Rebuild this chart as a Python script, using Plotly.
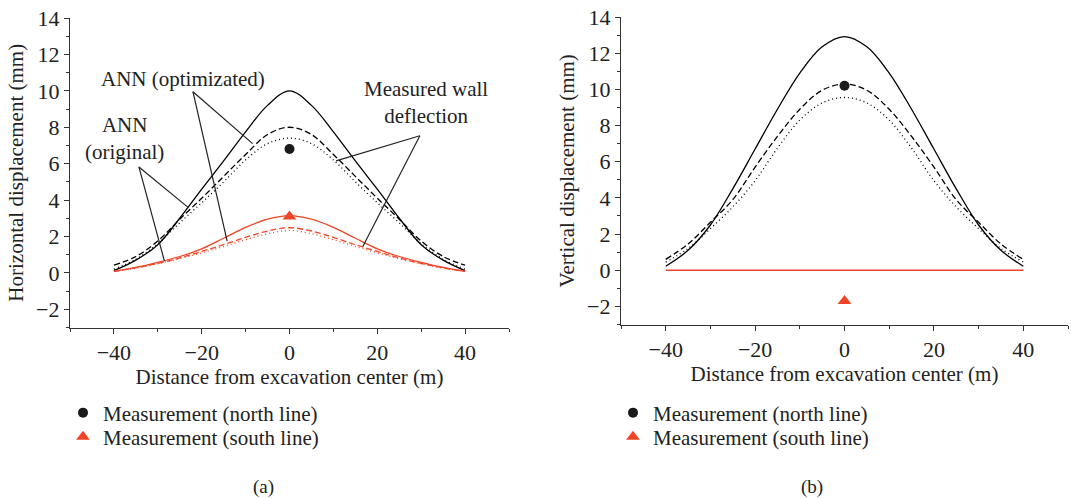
import plotly.graph_objects as go

W, H = 1071, 498
RED = "#EF4526"
FONT = "Liberation Serif"

x_dist = [-40, -35, -30, -25, -20, -15, -10, -5, 0, 5, 10, 15, 20, 25, 30, 35, 40]

# Panel (a): horizontal displacement (mm)
a_north_ann_orig = [0.12, 0.7, 1.55, 3.0, 4.6, 6.15, 7.75, 9.2, 10.0, 9.2, 7.75, 6.15, 4.6, 3.0, 1.55, 0.7, 0.12]
a_north_ann_opt = [0.42, 0.9, 1.75, 2.95, 4.1, 5.3, 6.5, 7.6, 8.0, 7.6, 6.5, 5.3, 4.1, 2.95, 1.75, 0.9, 0.42]
a_north_meas = [0.2, 0.75, 1.6, 2.75, 3.85, 5.0, 6.2, 7.1, 7.4, 7.1, 6.2, 5.0, 3.85, 2.75, 1.6, 0.75, 0.2]
a_south_ann_orig = [0.08, 0.3, 0.58, 0.9, 1.32, 1.9, 2.5, 2.95, 3.15, 2.95, 2.5, 1.9, 1.32, 0.9, 0.58, 0.3, 0.08]
a_south_ann_opt = [0.08, 0.28, 0.52, 0.82, 1.18, 1.55, 1.95, 2.3, 2.48, 2.3, 1.95, 1.55, 1.18, 0.82, 0.52, 0.28, 0.08]
a_south_meas = [0.08, 0.26, 0.5, 0.78, 1.1, 1.45, 1.82, 2.15, 2.33, 2.15, 1.82, 1.45, 1.1, 0.78, 0.5, 0.26, 0.08]
a_meas_north = 6.8
a_meas_south = 3.1

# Panel (b): vertical displacement (mm)
b_north_ann_orig = [0.22, 1.1, 2.5, 4.5, 6.7, 8.9, 10.9, 12.35, 12.92, 12.35, 10.9, 8.9, 6.7, 4.5, 2.5, 1.1, 0.22]
b_north_ann_opt = [0.6, 1.45, 2.65, 3.9, 5.7, 7.4, 8.9, 9.95, 10.3, 9.95, 8.9, 7.4, 5.7, 3.9, 2.65, 1.45, 0.6]
b_north_meas = [0.45, 1.2, 2.3, 3.5, 4.95, 6.75, 8.3, 9.25, 9.55, 9.25, 8.3, 6.75, 4.95, 3.5, 2.3, 1.2, 0.45]
b_south = [0.0] * 17
b_meas_north = 10.2
b_meas_south = -1.7

y_ticks = [-2, 0, 2, 4, 6, 8, 10, 12, 14]
x_ticks = [-40, -20, 0, 20, 40]

# Label leader lines for panel (a): (x0, y0, x1, y1) in data units
leaders = [
    (-34.3, 5.82, -23.1, 3.6),
    (-34.3, 5.82, -28.5, 0.66),
    (-22.0, 9.95, -8.4, 7.1),
    (-22.0, 9.95, -14.2, 1.75),
    (29.7, 7.53, 10.6, 6.15),
    (29.7, 7.53, 16.7, 1.45),
]

fig = go.Figure()

def curves(xa, ya, data, color, width=1.3):
    for vals, dash in data:
        fig.add_trace(go.Scatter(
            x=x_dist, y=vals, mode="lines", xaxis=xa, yaxis=ya,
            line=dict(color=color, width=width, dash=dash, shape="spline", smoothing=1.0),
            showlegend=False, hoverinfo="skip"))

curves("x", "y", [(a_north_ann_orig, "solid"), (a_north_ann_opt, "6px,3px"), (a_north_meas, "1px,3px")], "black")
curves("x", "y", [(a_south_ann_orig, "solid"), (a_south_ann_opt, "6px,3px"), (a_south_meas, "1px,3px")], RED)
curves("x2", "y2", [(b_north_ann_orig, "solid"), (b_north_ann_opt, "6px,3px"), (b_north_meas, "1px,3px")], "black")
curves("x2", "y2", [(b_south, "solid")], RED, width=1.7)

# measurement markers
fig.add_trace(go.Scatter(x=[0], y=[a_meas_north], mode="markers", xaxis="x", yaxis="y",
                         marker=dict(symbol="circle", size=10, color="#1a1a1a"),
                         name="Measurement (north line)", legend="legend"))
fig.add_trace(go.Scatter(x=[0], y=[a_meas_south], mode="markers", xaxis="x", yaxis="y",
                         marker=dict(symbol="triangle-up", size=12, color=RED),
                         name="Measurement (south line)", legend="legend3"))
fig.add_trace(go.Scatter(x=[0], y=[b_meas_north], mode="markers", xaxis="x2", yaxis="y2",
                         marker=dict(symbol="circle", size=10, color="#1a1a1a"),
                         name="Measurement (north line)", legend="legend2"))
fig.add_trace(go.Scatter(x=[0], y=[b_meas_south], mode="markers", xaxis="x2", yaxis="y2",
                         marker=dict(symbol="triangle-up", size=12, color=RED),
                         name="Measurement (south line)", legend="legend4"))

for (x0, y0, x1, y1) in leaders:
    fig.add_shape(type="line", xref="x", yref="y", x0=x0, y0=y0, x1=x1, y1=y1,
                  line=dict(color="#222", width=1.2))

axis_common = dict(
    showline=True, linecolor="#333", linewidth=1.3, showgrid=False, zeroline=False,
    ticks="outside", ticklen=5, tickcolor="#333", tickwidth=1.2, automargin=False,
    tickfont=dict(family=FONT, size=22, color="#222"),
)
xcommon = dict(axis_common, range=[-50, 50], tickvals=x_ticks,
               minor=dict(dtick=10, tick0=0, ticks="outside", ticklen=3, tickcolor="#333", tickwidth=1.2),
               title=dict(text="Distance from excavation center (m)", font=dict(family=FONT, size=21, color="#222"), standoff=4))
ycommon = dict(axis_common, range=[-3, 14], tickvals=y_ticks,
               minor=dict(dtick=1, tick0=0, ticks="outside", ticklen=3, tickcolor="#333", tickwidth=1.2))

def leg(xpx, ypx):
    return dict(x=xpx / W, y=1 - ypx / H, xanchor="left", yanchor="middle", bgcolor="rgba(0,0,0,0)",
                font=dict(family=FONT, size=21, color="#222"), itemwidth=30)

fig.update_layout(
    width=W, height=H, margin=dict(l=0, r=0, t=0, b=0),
    paper_bgcolor="white", plot_bgcolor="white",
    xaxis=dict(xcommon, domain=[70 / W, 509 / W], anchor="y"),
    yaxis=dict(ycommon, domain=[(H - 327.5) / H, (H - 18) / H], anchor="x",
               title=dict(text="Horizontal displacement (mm)", font=dict(family=FONT, size=21, color="#222"), standoff=6)),
    xaxis2=dict(xcommon, domain=[621 / W, 1068 / W], anchor="y2"),
    yaxis2=dict(ycommon, domain=[(H - 324.5) / H, (H - 17) / H], anchor="x2",
                title=dict(text="Vertical displacement (mm)", font=dict(family=FONT, size=21, color="#222"), standoff=6)),
    legend=leg(63, 413),
    legend3=leg(63, 437),
    legend2=leg(613, 413),
    legend4=leg(613, 437),
    font=dict(family=FONT, color="#222"),
)

ann_font = dict(family=FONT, size=21, color="#222")
fig.add_annotation(x=-24.2, y=10.66, xref="x", yref="y", text="ANN (optimizated)", showarrow=False, font=ann_font,
                   xanchor="center", yanchor="middle")
fig.add_annotation(x=-37.7, y=7.36, xref="x", yref="y", text="ANN<br>(original)", showarrow=False, font=ann_font,
                   xanchor="center", yanchor="middle")
fig.add_annotation(x=31.1, y=9.37, xref="x", yref="y", text="Measured wall<br>deflection", showarrow=False, font=ann_font,
                   xanchor="center", yanchor="middle")
fig.add_annotation(x=263 / W, y=1 - 487 / H, xref="paper", yref="paper", text="(a)", showarrow=False,
                   font=dict(family=FONT, size=19, color="#222"), xanchor="center", yanchor="middle")
fig.add_annotation(x=812 / W, y=1 - 487 / H, xref="paper", yref="paper", text="(b)", showarrow=False,
                   font=dict(family=FONT, size=19, color="#222"), xanchor="center", yanchor="middle")

fig.write_html("out.html")
